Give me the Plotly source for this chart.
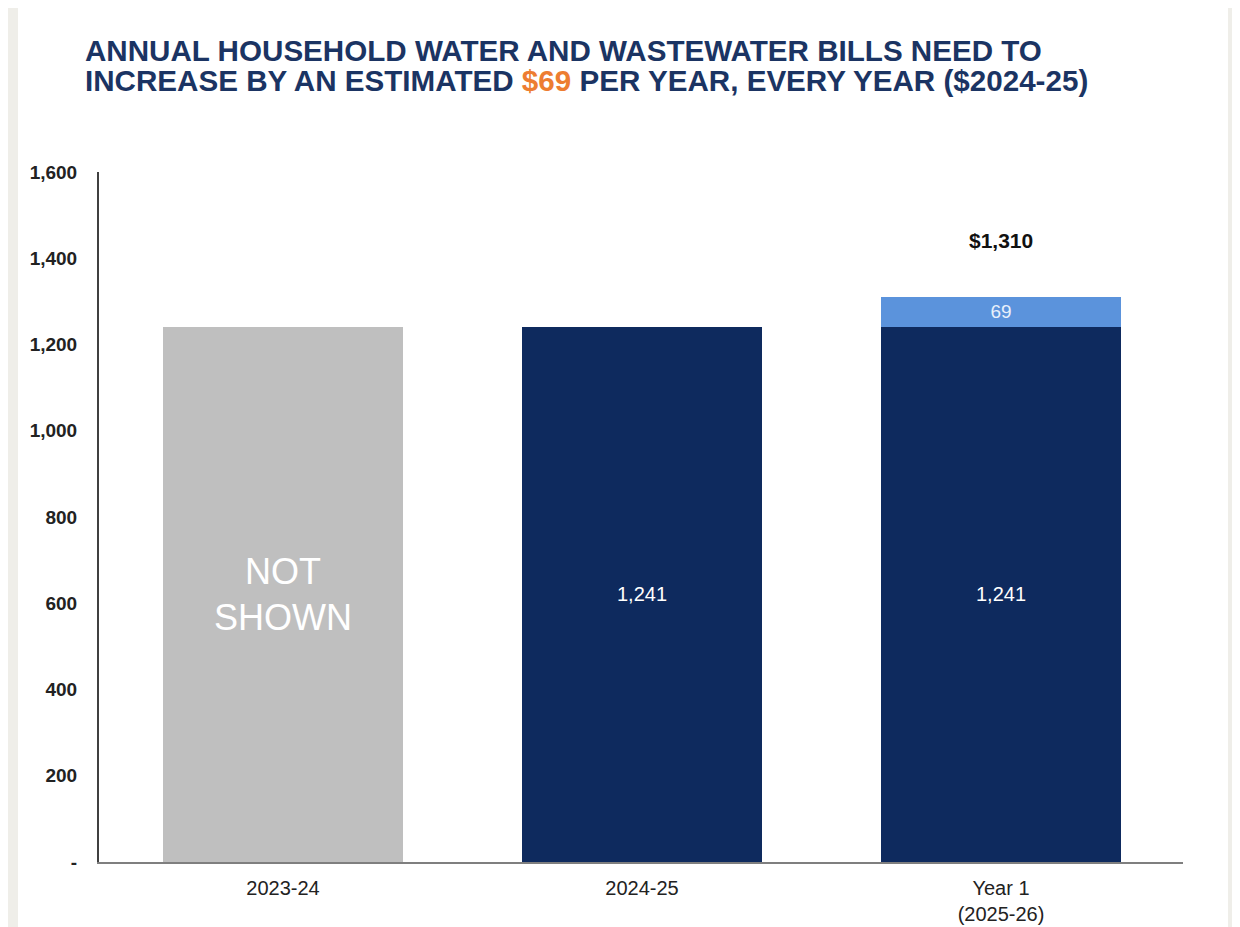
import plotly.graph_objects as go

categories = ["2023-24", "2024-25", "Year 1<br>(2025-26)"]
base_values = [1241, 1241, 1241]
base_labels = ["NOT<br>SHOWN", "1,241", "1,241"]
increase_values = [0, 0, 69]
increase_labels = ["", "", "69"]
y_tick_values = [0, 200, 400, 600, 800, 1000, 1200, 1400, 1600]
y_tick_labels = ["-", "200", "400", "600", "800", "1,000", "1,200", "1,400", "1,600"]

GRAY = "#bfbfbf"
NAVY = "#0e2a5e"
LIGHT = "#5b93dc"
FONT = "Liberation Sans, Arial"

totals = [b + i for b, i in zip(base_values, increase_values)]

fig = go.Figure()
fig.add_trace(go.Bar(
    x=categories, y=base_values,
    marker=dict(color=[GRAY, NAVY, NAVY], line=dict(width=0)),
    text=base_labels, textposition="inside", insidetextanchor="middle",
    textfont=dict(color="white", size=[36, 20, 20], family=FONT),
    hoverinfo="skip",
))
fig.add_trace(go.Bar(
    x=categories, y=increase_values,
    marker=dict(color=LIGHT, line=dict(width=0)),
    text=increase_labels, textposition="inside", insidetextanchor="middle",
    textfont=dict(color="#e8f0fb", size=19, family=FONT),
    hoverinfo="skip",
))

fig.add_annotation(
    x=categories[2], y=totals[2], xref="x", yref="y",
    text="<b>$1,310</b>", showarrow=False, yanchor="middle", yshift=57,
    font=dict(size=21, color="#111111", family=FONT),
)

title_color = "#1b3463"
fig.add_annotation(
    x=-0.0145, y=1.1768, xref="paper", yref="paper", xanchor="left", yanchor="middle",
    align="left", showarrow=False,
    text="<b>ANNUAL HOUSEHOLD WATER AND WASTEWATER BILLS NEED TO</b>",
    font=dict(size=29.6, color=title_color, family=FONT),
)
fig.add_annotation(
    x=-0.0145, y=1.1333, xref="paper", yref="paper", xanchor="left", yanchor="middle",
    align="left", showarrow=False,
    text=("<b>INCREASE BY AN ESTIMATED <span style='color:#ed7d31'>$69</span> "
          "PER YEAR, EVERY YEAR ($2024-25)</b>"),
    font=dict(size=29.6, color=title_color, family=FONT),
)

# white card background
fig.add_shape(type="rect", xref="paper", yref="paper", x0=-0.0747, x1=1.0415, y0=-0.12, y1=1.2377,
              fillcolor="white", line=dict(width=0), layer="below")

fig.update_layout(
    barmode="stack",
    width=1232, height=919,
    margin=dict(l=91, r=57, t=164, b=65, autoexpand=False),
    paper_bgcolor="#efeee9",
    plot_bgcolor="white",
    showlegend=False,
    bargap=0.331,
    font=dict(family=FONT, color="#222222"),
)
fig.update_xaxes(
    range=[-0.5125, 2.507], automargin=False,
    showline=True, linecolor="#7f7f7f", linewidth=2, showgrid=False, ticks="",
    tickfont=dict(size=20, color="#222222"), ticklabelstandoff=7, fixedrange=True,
)
fig.update_yaxes(
    range=[0, 1600], tickvals=y_tick_values, ticktext=["<b>%s</b>" % t for t in y_tick_labels],
    showline=True, linecolor="#404040", linewidth=2, showgrid=False, ticks="", zeroline=False,
    tickfont=dict(size=19, color="#222222"), ticklabelstandoff=16, fixedrange=True, automargin=False,
)

fig.write_html("out.html")
